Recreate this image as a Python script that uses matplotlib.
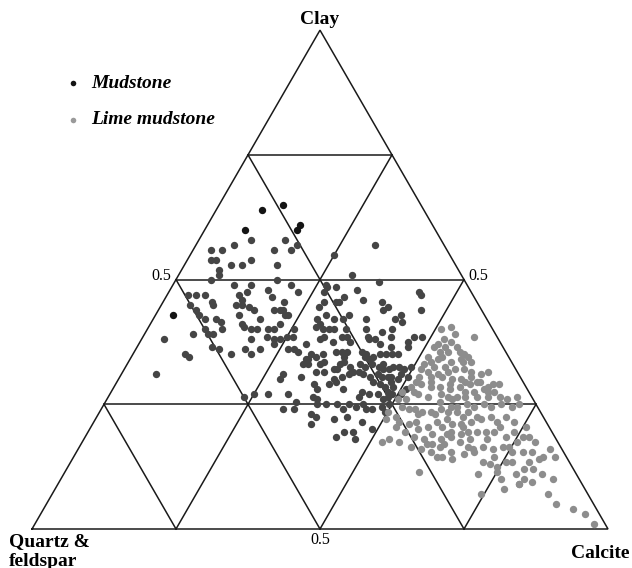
import numpy as np
import matplotlib.pyplot as plt

# compositions in % (clay, calcite); quartz & feldspar = 100 - clay - calcite
black_clay = [64, 65, 61, 60, 60, 43]
black_calcite = [8, 11, 16, 16, 7, 3]

mud_clay = [
    58, 57, 58, 57, 56, 56, 56, 56, 54, 54, 53, 53, 54, 53, 52, 51, 50, 57, 55, 51,
    49, 49, 48, 50, 49, 47, 47, 47, 45, 45, 44, 43, 42, 42, 41.5, 40, 40, 39, 39, 39,
    38, 36.5, 36, 35, 35, 34.5, 31, 45, 45, 43, 44, 42, 44, 44, 44, 43, 43, 41, 40.5, 40,
    40, 38, 40, 38.5, 40, 41, 38, 38, 38.5, 38.5, 40, 37, 36, 36, 35, 36, 36, 35.5, 37, 33,
    34, 33, 31, 30, 30.5, 27, 26.5, 27, 27, 25.5, 24, 24, 21, 23, 22.5, 28, 26, 35,
    44.5, 42, 41, 40.5, 40, 40, 40, 42, 42, 43, 40, 42, 44, 42, 43, 41.5, 40, 38, 38.5, 37.5,
    38.5, 38.5, 37.5, 38.5, 38, 38, 37, 38.5, 36.5, 37.5, 36.5, 38.5, 38.5, 34, 34.5, 35, 35.5, 35.5, 35.5, 34.5,
    33, 33.5, 32, 32, 32.5, 31.5, 31, 30.5, 30, 35.5, 35, 34.5, 34, 34.5, 35, 35, 35, 35, 33, 32.5,
    33, 32.5, 33, 32, 32, 32.5, 32.5, 32, 32.5, 31.5, 31, 30.5, 31, 30.5, 30.5, 30.5, 29.5, 29, 28.5, 29.5,
    28.5, 27.5, 30, 31, 30.5, 27, 26, 26.5, 27, 25, 27.5, 27, 26.5, 29, 26.5, 25, 25, 25, 24, 25,
    25, 24, 27, 28, 24.5, 23.5, 33, 33.5, 31.5, 31.5, 29.5, 29, 28, 44,
    49, 48.5, 48.5, 47.5, 48, 46.5, 45.5, 47.5, 47, 46, 45.5, 45.5, 45.5, 49.5,
    47, 47.5, 46, 46.5, 45.5, 47.5, 45.5, 44.5, 44.5, 43, 40, 39.5,
    18.5, 19.5, 19.5, 18, 21.5, 20, 24, 22, 22.5, 24.5,
]
mud_calcite = [
    9, 6.5, 15, 17.5, 17, 14, 3, 5, 4, 5, 8, 10, 11, 16, 6.5, 7, 6, 31, 25, 30,
    10.5, 13.5, 17, 17.5, 20.5, 3.5, 5, 6.5, 9, 5, 6.5, 7.5, 9, 11, 12, 13, 10, 11, 12, 8.5,
    4, 13, 14.5, 17, 9, 10, 6, 13, 14, 14.5, 16.5, 18.5, 20, 21, 21.5, 22.5, 23, 16, 16.5, 18,
    19, 19, 21, 21.5, 22, 22.5, 23, 24, 25, 26, 25.5, 23.5, 21.5, 19, 20.5, 26.5, 27.5, 28.5, 29, 30.5,
    30.5, 31.5, 28, 28, 31.5, 27.5, 23.5, 25, 31, 33, 31.5, 33.5, 38, 37, 38, 35.5, 36.5, 31,
    27.5, 28.5, 29.5, 29, 30.5, 31.5, 32.5, 31.5, 33, 33.5, 34.5, 37, 39, 42, 42.5, 43.5, 42.5, 31, 31.5, 33.5,
    34.5, 35.5, 36.5, 39, 39.5, 40.5, 42, 43, 44, 46.5, 47, 47, 48.5, 31, 32, 33, 35, 36, 37, 37,
    37, 37.5, 37, 36.5, 39, 40, 39.5, 38.5, 37.5, 39.5, 40.5, 40.5, 41.5, 42, 43, 44, 45, 46, 40.5, 41.5,
    42.5, 44, 44.5, 45, 46, 46.5, 47.5, 48.5, 49.5, 41, 42, 43.5, 44.5, 45.5, 46.5, 47, 44.5, 46, 47, 47.5,
    48.5, 48, 48.5, 48.5, 50, 46.5, 48, 48.5, 49, 49.5, 43.5, 45, 43.5, 34.5, 35.5, 37, 38.5, 40.5, 42, 42.5,
    45, 46, 50.5, 51, 48.5, 49.5, 33.5, 34, 33.5, 35, 38, 37, 40, 45.5,
    26.5, 27, 28.5, 27, 32.5, 31, 30.5, 43.5, 44, 34.5, 38, 30, 28, 35.5,
    12.5, 13.5, 13.5, 18.5, 21, 22.5, 8.5, 15.5, 39.5, 29.5, 38, 41,
    43.5, 44.5, 46, 47, 46.5, 49, 47, 41.5, 43.5, 44,
]

lime_clay = [
    40, 40.5, 39, 38.5, 36.5, 37, 38, 35.5, 35.5, 35, 34.5, 34.5, 33.5, 34, 36.5, 32, 31.5, 31, 31.5, 32,
    32, 31.5, 31, 31.5, 28.5, 29, 29.5, 28.5, 29, 28.5, 29, 29.5, 28.5, 27, 26.5, 27, 26.5, 26.5, 26.5, 26.5,
    26.5, 26.5, 26, 26.5, 34.5, 33.5, 33.5, 30.5, 30, 29.5, 28, 27.5, 27.5, 26, 26, 28, 27.5, 29.5, 29, 29,
    27.5, 27.5, 26, 29.5, 36.5, 30.5, 32.5, 30.5, 27.5, 30.5, 33, 37.5, 34, 35.5, 33.5,
    23.5, 22.5, 24.5, 24, 23, 23.5, 23.5, 24, 23.5, 24.5, 21.5, 21, 21.5, 20.5, 21.5, 20.5, 21, 18, 17.5, 18.5,
    18, 19, 18, 18.5, 17.5, 17.5, 16.5, 16, 15.5, 16.5, 15.5, 14.5, 24.5, 23.5, 25, 24.5, 25, 24.5, 25, 24.5,
    25, 22, 22.5, 21.5, 22, 22.5, 21.5, 22.5, 21.5, 20.5, 19.5, 19, 19.5, 19.5, 19.5, 19.5, 18.5, 19.5, 18.5, 18.5,
    17, 16.5, 16, 16.5, 16, 16.5, 16.5, 17.5, 17.5, 14, 15, 15.5, 13.5, 14.5, 13.5, 12.5, 15.5, 15.5, 13.5, 12,
    14, 14.5, 16, 14.5, 11, 10, 8, 9, 11, 9, 10, 9.5, 12, 11, 10, 7, 7, 5, 4, 3,
    1, 11.5, 14.5, 11.5, 20.5, 19.5, 17, 19, 20.5, 18, 18, 20.5, 13, 13.5, 22, 23.5, 15.5,
    30, 25.5, 23, 20, 17, 24, 21, 28.5, 32.5, 22.5,
]
lime_calcite = [
    51, 52.5, 54, 57.5, 51.5, 52, 52.5, 54.5, 56.5, 57.5, 58.5, 51.5, 52.5, 53.5, 55.5, 51.5, 53, 55, 56.5, 57.5,
    59, 60.5, 62.5, 63.5, 51.5, 53, 54.5, 56.5, 58, 60, 61.5, 63, 65, 53.5, 55.5, 57.5, 59, 60.5, 62, 64,
    66, 68, 69.5, 71, 54, 56, 58, 56, 58, 60.5, 58.5, 61.5, 52.5, 60, 52, 64.5, 65.5, 62.5, 65.5, 66.5,
    63, 50.5, 50.5, 52, 53.5, 54, 55.5, 61, 66.5, 52, 51.5, 54, 57.5, 53, 59.5,
    50, 52, 52, 53.5, 55.5, 56, 57.5, 59, 60.5, 61.5, 53, 55, 56, 58.5, 59.5, 61, 62.5, 53, 55, 57,
    59, 60, 62, 63.5, 65.5, 52, 57.5, 59.5, 61.5, 62.5, 65, 63, 60.5, 62, 63, 64.5, 66, 67.5, 69, 71,
    72, 61, 63.5, 65.5, 67, 68.5, 70, 71, 73, 75.5, 63, 65, 66, 67.5, 69, 70.5, 73, 74, 76, 77,
    63, 67.5, 68.5, 70, 72, 73.5, 74.5, 75.5, 78.5, 66, 67.5, 69, 71.5, 73, 75.5, 74.5, 75.5, 77.5, 79.5, 81,
    81, 81.5, 82, 83.5, 72, 76.5, 78, 80, 78.5, 80, 80.5, 82, 79.5, 83, 85.5, 74.5, 86, 88.5, 92, 94.5,
    97, 61.5, 64, 75, 53, 55, 60, 62.5, 64.5, 67, 70, 71, 73, 76.5, 50.5, 64, 79,
    59.5, 58, 58.5, 57, 61, 54.5, 64, 55, 53.5, 66,
]

legend_labels = ['Mudstone', 'Lime mudstone']
axis_labels = ['Clay', 'Calcite', 'Quartz &', 'feldspar']
grid_fracs = [0.25, 0.5, 0.75]

H = np.sqrt(3) / 2


def to_xy(clay, calcite):
    clay = np.asarray(clay, dtype=float) / 100
    cal = np.asarray(calcite, dtype=float) / 100
    return cal + clay / 2, clay * H


fig = plt.figure(figsize=(6.32, 5.68), dpi=100)
ax = fig.add_axes([0, 0, 1, 1])
ax.set_xlim(-32 / 576, 600 / 576)
ax.set_ylim(-39 / 576, 529 / 576)
ax.axis('off')

lc = '#1a1a1a'
lw = 1.1
# outline
ox, oy = to_xy([0, 0, 100, 0], [0, 100, 0, 0])
ax.plot(ox, oy, color=lc, lw=lw, solid_joinstyle='miter')
# grid lines parallel to each side
for f in grid_fracs:
    p = f * 100
    q = (1 - f) * 100
    gx, gy = to_xy([p, p], [0, q])          # constant clay
    ax.plot(gx, gy, color=lc, lw=lw)
    gx, gy = to_xy([0, q], [p, p])          # constant calcite
    ax.plot(gx, gy, color=lc, lw=lw)
    gx, gy = to_xy([0, q], [q, 0])          # constant quartz
    ax.plot(gx, gy, color=lc, lw=lw)

ms = 28
mx, my = to_xy(mud_clay, mud_calcite)
ax.scatter(mx, my, s=ms, color='#454545', linewidths=0, zorder=3)
bx, by = to_xy(black_clay, black_calcite)
ax.scatter(bx, by, s=ms, color='#141414', linewidths=0, zorder=3)
lx, ly = to_xy(lime_clay, lime_calcite)
ax.scatter(lx, ly, s=ms, color='#8d8d8d', linewidths=0, zorder=4)

serif = 'Liberation Serif'
ax.text(0.5, (529 - 19) / 576, axis_labels[0], ha='center', va='center',
        fontsize=14, fontweight='bold', family=serif)
ax.text((629 - 32) / 576, (529 - 553) / 576, axis_labels[1], ha='right', va='center',
        fontsize=14, fontweight='bold', family=serif)
ax.text((9 - 32) / 576, (529 - 542) / 576, axis_labels[2], ha='left', va='center',
        fontsize=14, fontweight='bold', family=serif)
ax.text((9 - 32) / 576, (529 - 561) / 576, axis_labels[3], ha='left', va='center',
        fontsize=14, fontweight='bold', family=serif)

for px, py in [(161, 276), (478, 276), (320, 540)]:
    ax.text((px - 32) / 576, (529 - py) / 576, '0.5', ha='center', va='center',
            fontsize=11.5, family=serif)

# legend
for (py, col, lab) in [(83, '#141414', legend_labels[0]), (120, '#9a9a9a', legend_labels[1])]:
    ax.scatter([(73 - 32) / 576], [(529 - py) / 576], s=16, color=col, linewidths=0)
    ax.text((91 - 32) / 576, (529 - py) / 576, lab, ha='left', va='center',
            fontsize=14, fontweight='bold', fontstyle='italic', family=serif)

plt.savefig('out.png', dpi=100)
plt.close()
